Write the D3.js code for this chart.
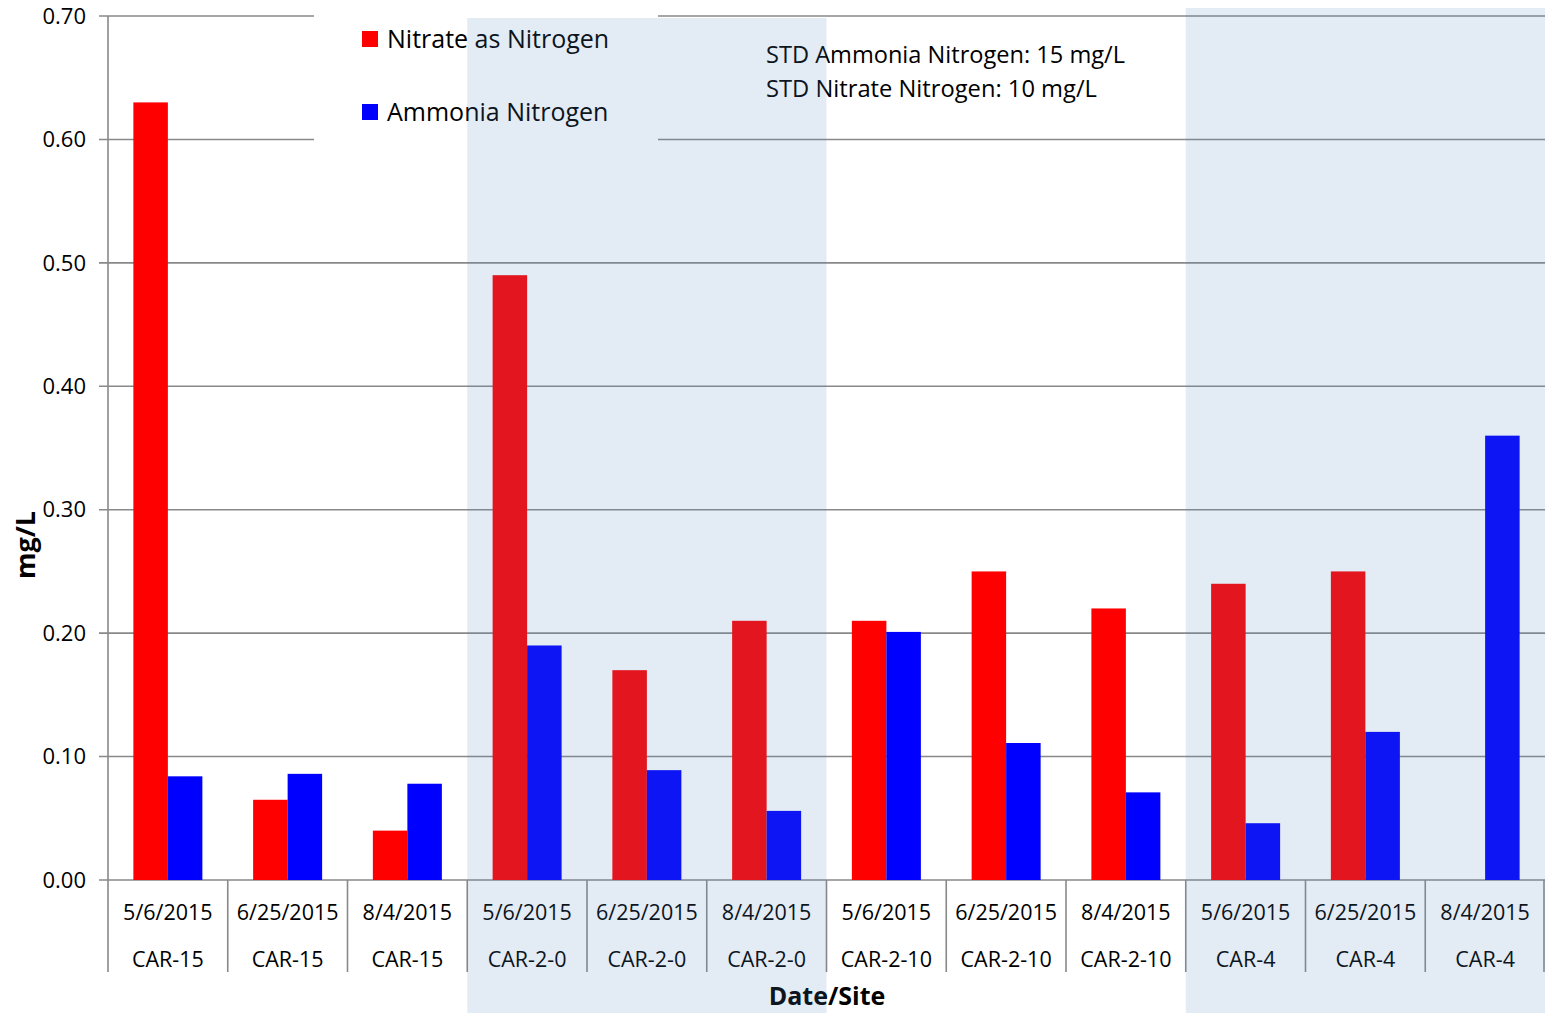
<!DOCTYPE html>
<html>
<head>
<meta charset="utf-8">
<script src="https://cdn.jsdelivr.net/npm/d3@7"></script>
<style>
  body { margin: 0; background: #fff; }
  svg { display: block; font-family: "Open Sans", "Noto Sans", sans-serif; }
</style>
</head>
<body>
<script>
// data
var dates = ['5/6/2015', '6/25/2015', '8/4/2015', '5/6/2015', '6/25/2015', '8/4/2015',
             '5/6/2015', '6/25/2015', '8/4/2015', '5/6/2015', '6/25/2015', '8/4/2015'];
var sites = ['CAR-15', 'CAR-15', 'CAR-15', 'CAR-2-0', 'CAR-2-0', 'CAR-2-0',
             'CAR-2-10', 'CAR-2-10', 'CAR-2-10', 'CAR-4', 'CAR-4', 'CAR-4'];
var nitrate = [0.63, 0.065, 0.04, 0.49, 0.17, 0.21, 0.21, 0.25, 0.22, 0.24, 0.25, null];
var ammonia = [0.084, 0.086, 0.078, 0.19, 0.089, 0.056, 0.201, 0.111, 0.071, 0.046, 0.12, 0.36];
var seriesNames = ['Nitrate as Nitrogen', 'Ammonia Nitrogen'];
var seriesColors = ['#ff0000', '#0000ff'];
var yTicks = [0, 0.1, 0.2, 0.3, 0.4, 0.5, 0.6, 0.7];
var shadedGroups = ['CAR-2-0', 'CAR-4'];
var notes = ['STD Ammonia Nitrogen: 15 mg/L', 'STD Nitrate Nitrogen: 10 mg/L'];

var W = 1545, H = 1013;
var plotL = 108, plotR = 1545, plotT = 16, plotB = 880;

var svg = d3.select('body').append('svg').attr('width', W).attr('height', H);

var idx = dates.map(function(d, i) { return i; });
var x = d3.scaleBand().domain(idx).range([plotL, plotR]);
var x1 = d3.scaleBand().domain([0, 1]).range([-34.5, 34.5]);
var y = d3.scaleLinear().domain([0, 0.7]).range([plotB, plotT]);

// gridlines + y ticks
svg.append('g').selectAll('line').data(yTicks).enter().append('line')
    .attr('x1', plotL - 9).attr('x2', plotR)
    .attr('y1', function(d) { return y(d); }).attr('y2', function(d) { return y(d); })
    .attr('stroke', '#898989').attr('stroke-width', 1.6);

svg.append('g').selectAll('text').data(yTicks).enter().append('text')
    .attr('x', 86).attr('y', function(d) { return y(d); })
    .attr('dy', '0.35em').attr('text-anchor', 'end')
    .attr('font-size', 22).attr('fill', '#000')
    .text(function(d) { return d.toFixed(2); });

// y axis line and category separators
svg.append('line').attr('x1', plotL).attr('x2', plotL).attr('y1', plotT).attr('y2', 972)
    .attr('stroke', '#898989').attr('stroke-width', 1.6);
svg.append('g').selectAll('line').data(idx.slice(1).concat([12])).enter().append('line')
    .attr('x1', function(i) { return i < 12 ? x(i) : plotR - 1; })
    .attr('x2', function(i) { return i < 12 ? x(i) : plotR - 1; })
    .attr('y1', plotB).attr('y2', 972)
    .attr('stroke', '#898989').attr('stroke-width', 1.6);

// bars
var rows = idx.map(function(i) {
    return [{ s: 0, v: nitrate[i] }, { s: 1, v: ammonia[i] }].filter(function(d) { return d.v != null; });
});
var groups = svg.append('g').selectAll('g').data(rows).enter().append('g')
    .attr('transform', function(d, i) { return 'translate(' + (x(i) + x.bandwidth() / 2) + ',0)'; });
groups.selectAll('rect').data(function(d) { return d; }).enter().append('rect')
    .attr('x', function(d) { return x1(d.s); })
    .attr('width', x1.bandwidth())
    .attr('y', function(d) { return y(d.v); })
    .attr('height', function(d) { return plotB - y(d.v); })
    .attr('fill', function(d) { return seriesColors[d.s]; });

// x labels, two rows
svg.append('g').selectAll('text').data(idx).enter().append('text')
    .attr('x', function(i) { return x(i) + x.bandwidth() / 2; }).attr('y', 912)
    .attr('dy', '0.35em').attr('text-anchor', 'middle').attr('font-size', 21.5)
    .text(function(i) { return dates[i]; });
svg.append('g').selectAll('text').data(idx).enter().append('text')
    .attr('x', function(i) { return x(i) + x.bandwidth() / 2; }).attr('y', 959)
    .attr('dy', '0.35em').attr('text-anchor', 'middle').attr('font-size', 21.5)
    .text(function(i) { return sites[i]; });

// axis titles
svg.append('text').attr('x', 827).attr('y', 996).attr('dy', '0.35em')
    .attr('text-anchor', 'middle').attr('font-size', 25).attr('font-weight', 'bold')
    .text('Date/Site');
svg.append('text').attr('transform', 'translate(26,545) rotate(-90)').attr('dy', '0.35em')
    .attr('text-anchor', 'middle').attr('font-size', 27).attr('font-weight', 'bold')
    .text('mg/L');

// legend on a white box
var legend = svg.append('g');
legend.append('rect').attr('x', 314).attr('y', 12).attr('width', 344).attr('height', 130).attr('fill', '#fff');
var li = legend.selectAll('g').data(seriesNames).enter().append('g')
    .attr('transform', function(d, i) { return 'translate(362,' + (39 + i * 73) + ')'; });
li.append('rect').attr('x', 0).attr('y', -8).attr('width', 16).attr('height', 16)
    .attr('fill', function(d, i) { return seriesColors[i]; });
li.append('text').attr('x', 25).attr('dy', '0.35em').attr('font-size', 25)
    .text(function(d) { return d; });

// standards note
svg.append('g').selectAll('text').data(notes).enter().append('text')
    .attr('x', 766).attr('y', function(d, i) { return 55 + i * 34; }).attr('dy', '0.35em')
    .attr('font-size', 23).attr('textLength', function(d, i) { return i ? 331 : 359; })
    .attr('lengthAdjust', 'spacingAndGlyphs')
    .text(function(d) { return d; });

// translucent site bands drawn over everything
shadedGroups.forEach(function(s, k) {
    var cats = idx.filter(function(i) { return sites[i] === s; });
    var x0 = x(cats[0]), xe = x(cats[cats.length - 1]) + x.bandwidth();
    var yt = k === 0 ? 18 : 8;
    svg.append('rect').attr('x', x0).attr('y', yt).attr('width', xe - x0).attr('height', H - yt)
        .attr('fill', '#4f81bd').attr('fill-opacity', 0.16);
});
</script>
</body>
</html>
